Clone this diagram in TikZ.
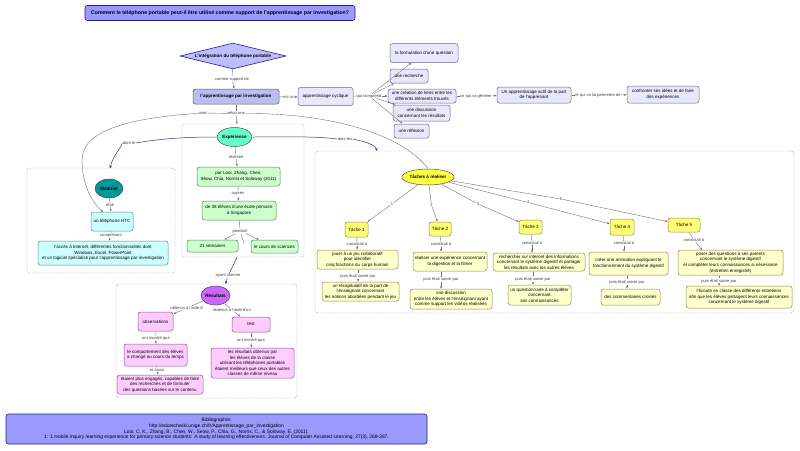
\documentclass[tikz,border=0pt]{standalone}
\usepackage{fontspec}
\setmainfont{Liberation Sans}
\usetikzlibrary{shapes.geometric,arrows.meta}
\definecolor{edgeblue}{HTML}{333388}
\definecolor{navyb}{HTML}{222277}
\definecolor{titlef}{HTML}{9999FF}
\definecolor{lavf}{HTML}{E8E8FC}
\definecolor{appf}{HTML}{BCBCF2}
\definecolor{diaf}{HTML}{BDBDFF}
\definecolor{grnf}{HTML}{CCFFCC}
\definecolor{cynf}{HTML}{CCFFFF}
\definecolor{pnkf}{HTML}{FFCCFF}
\definecolor{yelf}{HTML}{FFFFCC}
\definecolor{tskf}{HTML}{FFFF77}
\definecolor{expf}{HTML}{66FFCC}
\definecolor{matf}{HTML}{009999}
\definecolor{resf}{HTML}{CC66FF}
\definecolor{ellf}{HTML}{FFFF44}
\definecolor{lavb}{HTML}{666688}
\definecolor{grnb}{HTML}{558855}
\definecolor{cynb}{HTML}{558888}
\definecolor{pnkb}{HTML}{885588}
\definecolor{yelb}{HTML}{888855}
\tikzset{
 x=1pt,y=-1pt,
 txt/.style={font=\fontsize{4.5}{5.6}\selectfont,align=center,text=black,inner sep=0pt,outer sep=0.5pt},
 rbox/.style={txt,draw=#1,rounded corners=2.4pt,line width=0.5pt},
 rbox/.default={black!65},
 head/.style={font=\fontsize{4.55}{5.6}\selectfont\bfseries},
 titlebox/.style={rbox=navyb,fill=titlef,line width=0.6pt},
 lav/.style={rbox=lavb,fill=lavf},
 grn/.style={rbox=grnb,fill=grnf},
 cyn/.style={rbox=cynb,fill=cynf},
 pnk/.style={rbox=pnkb,fill=pnkf},
 yel/.style={rbox=yelb,fill=yelf},
 tsk/.style={rbox=yelb,fill=tskf},
 ell/.style={txt,ellipse,draw=black!70,line width=0.5pt,head},
 lab/.style={font=\fontsize{4.1}{5}\selectfont,align=center,text=black!75,inner sep=0.6pt,outer sep=0pt},
 grp/.style={draw=black!45,dash pattern=on 1.2pt off 1.2pt,rounded corners=3pt,line width=0.4pt},
 con/.style={draw=black!55,line width=0.4pt},
 arr/.style={con,-{Stealth[length=2.6pt,width=2.2pt]}},
 blu/.style={draw=edgeblue,line width=0.5pt},
 bluarr/.style={blu,-{Stealth[length=3pt,width=2.6pt]}},
}
\begin{document}
\begin{tikzpicture}
\useasboundingbox (0,0) rectangle (800,450);
\fill[white] (0,0) rectangle (800,450);
% groups
\node[grp,minimum width=148pt,minimum height=105pt,inner sep=0pt] (gmat) at (101,220.5) {};
\node[grp,minimum width=122pt,minimum height=133pt,inner sep=0pt] (gexp) at (243,190.5) {};
\node[grp,minimum width=181pt,minimum height=114pt,inner sep=0pt] (gres) at (206.5,341) {};
\node[grp,minimum width=479pt,minimum height=162pt,inner sep=0pt] (gtsk) at (554.5,232) {};
% title and top
\node[titlebox,minimum width=270pt,minimum height=15pt,font=\fontsize{5.24}{6}\selectfont\bfseries] (title) at (220,13) {Comment le téléphone portable peut-il être utilisé comme support de l'apprentissage par investigation?};
\node[txt,head,diamond,draw=navyb,fill=diaf,line width=0.6pt,minimum width=106pt,minimum height=26pt,aspect=4] (dia) at (233,56) {L'intégration du téléphone portable};
\node[rbox,fill=appf,head,minimum width=86pt,minimum height=15pt] (app) at (236,96.5) {l'apprentissage par investigation};
\node[lav,minimum width=55pt,minimum height=18pt] (cyc) at (325.5,96.5) {apprentissage cyclique};
\node[lav,minimum width=68pt,minimum height=19pt] (form) at (424,53) {la formulation d'une question};
\node[lav,minimum width=38pt,minimum height=14pt] (rech) at (409,76) {une recherche};
\node[lav,minimum width=68pt,minimum height=14pt] (crea) at (422,96) {une création de liens entre les\\différents éléments trouvés};
\node[lav,minimum width=57pt,minimum height=16pt] (disc) at (421.5,113) {une discussion\\concernant les résultats};
\node[lav,minimum width=35pt,minimum height=14pt] (refl) at (411.5,131) {une réflexion};
\node[lav,minimum width=74pt,minimum height=16pt] (actif) at (534,95) {Un apprentissage actif de la part\\de l'apprenant};
\node[lav,minimum width=72pt,minimum height=17pt] (conf) at (663,94.5) {confronter ses idées et de faire\\des expériences};
% labels top
\node[lab] (lsup) at (232,79) {comme support de};
\node[lab] (lest) at (289,97) {est un};
\node[lab] (lqui) at (369,96) {qui comprend};
\node[lab] (lgen) at (476,96) {ce qui va générer};
\node[lab] (lper) at (598,95) {et qui va lui permettre de};
\node[lab] (lavec) at (203,113) {avec};
\node[lab] (lsel) at (236,113.5) {selon une};
\node[lab] (ldle) at (129,143) {dont le};
\node[lab] (ldles) at (345,139) {dont les};
% experience
\node[ell,fill=expf,minimum width=35pt,minimum height=19pt] (exp) at (234.5,137) {Expérience};
\node[grn,minimum width=83pt,minimum height=19pt] (looi) at (238.5,176.5) {par Looi, Zhang, Chen,\\Séow, Chia, Norrist et Soloway (2011)};
\node[grn,minimum width=74pt,minimum height=19pt] (elev) at (239,210.5) {de 38 élèves d'une école primaire\\à Singapore};
\node[grn,minimum width=51pt,minimum height=12pt] (sem) at (212.5,246) {21 semaines};
\node[grn,minimum width=47pt,minimum height=13pt] (cours) at (274.5,246.5) {le cours de sciences};
\node[lab] (lrea) at (236,157) {réalisée};
\node[lab] (lapr) at (238,193.5) {auprès};
\node[lab] (lpen) at (240,231) {pendant};
\node[lab] (layc) at (228,276) {ayant comme};
\coordinate (stub) at (244,243);
\coordinate (exptop) at (237,124);
\coordinate (matin) at (110,168.5);
\coordinate (htcin) at (103,212);
\coordinate (tskin) at (377,151);
\coordinate (resin) at (225.5,284);
\coordinate (a5in) at (702,250);
% materiel
\node[ell,fill=matf,minimum width=28pt,minimum height=19pt] (mat) at (109,188.5) {Matériel};
\node[cyn,minimum width=42pt,minimum height=19pt] (htc) at (112,221.5) {un téléphone HTC};
\node[cyn,minimum width=130pt,minimum height=24pt] (acc) at (103,253) {l'accès à internet, différentes fonctionnalités dont\\Windows, Excel, PowerPoint\\et un logiciel spécialisé pour l'apprentissage par investigation};
\node[lab] (leta) at (110,205) {était};
\node[lab] (lcom) at (111,236) {comprenant};
% resultats
\node[ell,fill=resf,minimum width=29pt,minimum height=19pt] (res) at (215.5,295.5) {Résultats};
\node[pnk,minimum width=35pt,minimum height=19pt] (obs) at (155.5,321.5) {observations};
\node[pnk,minimum width=38pt,minimum height=15pt] (test) at (251,324.5) {test};
\node[pnk,minimum width=63pt,minimum height=22pt] (compo) at (155.5,355) {le comportement des élèves\\a changé au cours du temps};
\node[pnk,minimum width=86pt,minimum height=19pt] (etai) at (160,384.5) {étaient  plus engagés, capables de faire\\des recherches et de formuler\\des questions basées sur le contenu};
\node[pnk,minimum width=83pt,minimum height=30pt] (resu) at (252.5,363) {les résultats obtenus par\\les élèves de la classe\\utilisant les téléphones portables\\étaient meilleurs que ceux des autres\\classes de même niveau};
\node[lab] (lob1) at (187,308) {obtenus à l'aide d'};
\node[lab] (lob2) at (232,310) {obtenus à l'aide d'un};
\node[lab] (lmo1) at (156,338) {ont montré que};
\node[lab] (lmo2) at (251,340) {ont montré que};
\node[lab] (laus) at (157,370) {et aussi};
% taches
\node[ell,fill=ellf,minimum width=50pt,minimum height=16pt] (tac) at (428,177) {Tâches à réaliser};
\node[tsk,minimum width=23pt,minimum height=15pt] (t1) at (356.5,229.5) {Tâche 1};
\node[tsk,minimum width=22pt,minimum height=14pt] (t2) at (440,229) {Tâche 2};
\node[tsk,minimum width=23pt,minimum height=14pt] (t3) at (530.5,227) {Tâche 3};
\node[tsk,minimum width=24pt,minimum height=16pt] (t4) at (622,227) {Tâche 4};
\node[tsk,minimum width=32pt,minimum height=14pt] (t5) at (684,225) {Tâche 5};
\node[yel,minimum width=81pt,minimum height=19pt] (a1) at (357.5,259.5) {jouer à un jeu collaboratif\\pour identifier\\cinq fonctions du corps humain};
\node[yel,minimum width=77pt,minimum height=19pt] (b1) at (360.5,291.5) {un récapitulatif de la part de\\l'enseignant concernant\\les notions abordées pendant le jeu};
\node[yel,minimum width=74pt,minimum height=19pt] (a2) at (450,261.5) {réaliser une expérience concernant\\la digestion et la filmer};
\node[yel,minimum width=82pt,minimum height=20pt] (b2) at (451,299) {une discussion\\entre les élèves et l'enseignant ayant\\comme support les vidéos réalisées};
\node[yel,minimum width=92pt,minimum height=18pt] (a3) at (539,262) {rechercher sur internet  des informations\\concernant le système digestif et partager\\les résultats avec les autres élèves};
\node[yel,minimum width=63pt,minimum height=20pt] (b3) at (539.5,295) {un questionnaire à compléter\\concernant\\ses connaissances};
\node[yel,minimum width=79pt,minimum height=23pt] (a4) at (628.5,263.5) {créer une animation expliquant le\\fonctionnement du système digestif};
\node[yel,minimum width=59pt,minimum height=16pt] (b4) at (630.5,297) {des commentaires croisés};
\node[yel,minimum width=105pt,minimum height=25pt] (a5) at (730.5,262.5) {poser des questions à ses parents\\concernant le système digestif\\et compléter leurs connaissances si nécessaire\\(entretien enregistré)};
\node[yel,minimum width=106pt,minimum height=22pt] (b5) at (739,297) {l'écoute en classe des différents entretiens\\afin que les élèves partagent leurs connaissances\\concernant le système digestif};
\foreach \n/\x/\y/\s in {n1/392/204/1,n2/431.5/205/2,n3/478/204/3,n4/528/202.5/4,n5/561/199/5}
  \node[lab] (\n) at (\x,\y) {\s};
\node[lab] (c1) at (357,244) {consistait à};
\node[lab] (c2) at (441,244.5) {consistait à};
\node[lab] (c3) at (532,243) {consistait à};
\node[lab] (c4) at (624,243.5) {consistait à};
\node[lab] (c5) at (694,240) {consistait à};
\node[lab] (p1) at (358,276) {puis était suivie par};
\node[lab] (p2) at (441,279.5) {puis était suivie par};
\node[lab] (p3) at (533,279) {puis était suivie par};
\node[lab] (p4) at (627,282) {puis était suivie par};
\node[lab] (p5) at (719,281) {puis était suivie par};
% biblio
\node[titlebox,minimum width=421pt,minimum height=30pt,font=\fontsize{4.9}{5.7}\selectfont] (bib) at (216.5,429) {Bibliographie:\\http://edutechwiki.unige.ch/fr/Apprentissage\_par\_investigation\\Looi, C. K., Zhang, B., Chen, W., Seow, P., Chia, G., Norris, C., \& Soloway, E. (2011).\\1: 1 mobile inquiry learning experience for primary science students: A study of learning effectiveness. Journal of Computer Assisted Learning, 27(3), 269-287.};
% connectors
\draw[con] (dia) -- (lsup); \draw[arr] (lsup) -- (app);
\draw[con] (app) -- (lest); \draw[arr] (lest) -- (cyc);
\draw[con] (cyc) -- (lqui);
\foreach \t in {form,rech,crea,disc,refl} \draw[arr] (lqui) -- (\t);
\draw[con] (crea) -- (lgen); \draw[arr] (lgen) -- (actif);
\draw[con] (actif) -- (lper); \draw[arr] (lper) -- (conf);
\draw[con] (app) -- (lsel); \draw[arr] (lsel) -- (exptop);
\draw[con] (lsel) -- (lavec);
\draw[arr] (lavec) .. controls (130,118) and (82,130) .. (82,160) .. controls (82,185) and (92,202) .. (htcin);
\draw[con] (lsel.east) .. controls (320,113) and (398,130) .. (tac.north);
\draw[blu] (exp) .. controls (190,137) and (165,138) .. (ldle.east);
\draw[bluarr] (ldle.west) .. controls (122,147) and (113,155) .. (matin);
\draw[blu] (exp) .. controls (285,137) and (315,136) .. (ldles.west);
\draw[bluarr] (ldles.east) .. controls (362,141) and (375,144) .. (tskin);
\draw[con] (exp) -- (lrea); \draw[arr] (lrea) -- (looi);
\draw[con] (looi) -- (lapr); \draw[arr] (lapr) -- (elev);
\draw[con] (elev) -- (lpen); \draw[arr] (lpen) -- (sem); \draw[arr] (lpen) -- (cours);
\draw[con] (lpen) -- (stub);
\draw[blu] (gexp.south -| stub) ++(-7,0) -- (layc); \draw[bluarr] (layc) -- (resin);
\draw[con] (mat) -- (leta); \draw[arr] (leta) -- (htc);
\draw[con] (htc) -- (lcom); \draw[arr] (lcom) -- (acc);
\draw[con] (res) -- (lob1); \draw[arr] (lob1) -- (obs);
\draw[con] (res) -- (lob2); \draw[arr] (lob2) -- (test);
\draw[con] (obs) -- (lmo1); \draw[arr] (lmo1) -- (compo);
\draw[con] (test) -- (lmo2); \draw[arr] (lmo2) -- (resu);
\draw[con] (compo) -- (laus); \draw[arr] (laus) -- (etai);
\draw[con] (tac) -- (n1); \draw[arr] (n1) -- (t1);
\draw[con] (tac) -- (n2); \draw[arr] (n2) -- (t2);
\draw[con] (tac) -- (n3); \draw[arr] (n3) -- (t3);
\draw[con] (tac) -- (n4); \draw[arr] (n4) -- (t4);
\draw[con] (tac) -- (n5); \draw[arr] (n5) -- (t5);
\draw[con] (t1) -- (c1); \draw[arr] (c1) -- (a1.north -| c1);
\draw[con] (t2) -- (c2); \draw[arr] (c2) -- (a2.north -| c2);
\draw[con] (t3) -- (c3); \draw[arr] (c3) -- (a3.north -| c3);
\draw[con] (t4) -- (c4); \draw[arr] (c4) -- (a4.north -| c4);
\draw[con] (t5) -- (c5); \draw[arr] (c5) -- (a5in);
\draw[con] (a1.south -| p1) -- (p1); \draw[arr] (p1) -- (b1.north -| p1);
\draw[con] (a2.south -| p2) -- (p2); \draw[arr] (p2) -- (b2.north -| p2);
\draw[con] (a3.south -| p3) -- (p3); \draw[arr] (p3) -- (b3.north -| p3);
\draw[con] (a4.south -| p4) -- (p4); \draw[arr] (p4) -- (b4.north -| p4);
\draw[con] (a5.south -| p5) -- (p5); \draw[arr] (p5) -- (b5.north -| p5);
\end{tikzpicture}
\end{document}
